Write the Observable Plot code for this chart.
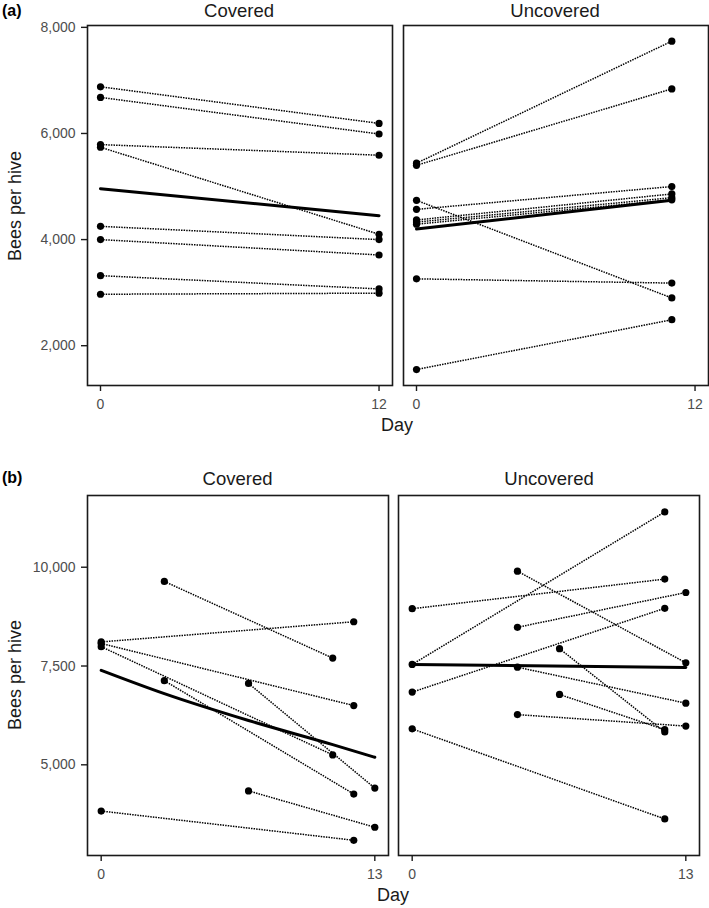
<!DOCTYPE html>
<html>
<head>
<meta charset="utf-8">
<script src="https://cdn.jsdelivr.net/npm/d3@7"></script>
<script src="https://cdn.jsdelivr.net/npm/@observablehq/plot@0.6"></script>
<style>
  html, body { margin: 0; padding: 0; background: #fff; }
  #chart { position: relative; width: 709px; height: 908px; overflow: hidden; background: #fff; }
  #chart > svg, #chart > figure { position: absolute; margin: 0; overflow: visible; }
  .overlay { left: 0; top: 0; pointer-events: none; }
</style>
</head>
<body>
<div id="chart"></div>
<script>
// ---------- Data ----------
// Panel (a) Covered
const aCovStartDay  = [0, 0, 0, 0, 0, 0, 0, 0];
const aCovStartBees = [6880, 6680, 5790, 5740, 4250, 4000, 3320, 2970];
const aCovEndDay    = [12, 12, 12, 12, 12, 12, 12, 12];
const aCovEndBees   = [6190, 5990, 5590, 4100, 4000, 3710, 3070, 2990];
const aCovMeanDay   = [0, 12];
const aCovMeanBees  = [4960, 4450];

// Panel (a) Uncovered
const aUncStartDay  = [0, 0, 0, 0, 0, 0, 0, 0, 0];
const aUncStartBees = [5440, 5400, 4740, 4570, 4370, 4330, 4290, 3260, 1550];
const aUncEndDay    = [11, 11, 11, 11, 11, 11, 11, 11, 11];
const aUncEndBees   = [7740, 6840, 2900, 5000, 4860, 4790, 4750, 3180, 2490];
const aUncMeanDay   = [0, 11];
const aUncMeanBees  = [4200, 4740];

// Panel (b) Covered
const bCovStartDay  = [0, 0, 0, 3, 3, 7, 7, 0];
const bCovStartBees = [8110, 8070, 7990, 9640, 7130, 7060, 4340, 3830];
const bCovEndDay    = [12, 12, 11, 11, 12, 13, 13, 12];
const bCovEndBees   = [8620, 6500, 5250, 7700, 4260, 4410, 3420, 3090];
const bCovMeanDay   = [0, 3, 7, 11, 13];
const bCovMeanBees  = [7390, 6800, 6120, 5510, 5190];

// Panel (b) Uncovered
const bUncStartDay  = [0, 5, 0, 5, 0, 7, 5, 7, 5, 0];
const bUncStartBees = [7540, 9900, 8950, 8480, 6840, 7940, 7470, 6780, 6270, 5910];
const bUncEndDay    = [12, 13, 12, 13, 12, 12, 13, 12, 13, 12];
const bUncEndBees   = [11400, 7580, 9700, 9360, 8960, 5830, 6560, 5890, 5980, 3630];
const bUncMeanDay   = [0, 13];
const bUncMeanBees  = [7540, 7460];

// Axis ticks
const aXTicks = [0, 12];
const bXTicks = [0, 13];
const aYTicks = [2000, 4000, 6000, 8000];
const bYTicks = [5000, 7500, 10000];

// Labels
const panelLabels = ["(a)", "(b)"];
const facetLabels = ["Covered", "Uncovered"];
const xLabel = "Day";
const yLabel = "Bees per hive";

// ---------- Drawing ----------
const FONT = "'Liberation Sans', Arial, Helvetica, sans-serif";
const chart = document.getElementById("chart");
const M = 10; // top / right margin around each frame

function panel(o) {
  const hives = o.startDay.map((d, i) => ({x1: d, y1: o.startBees[i], x2: o.endDay[i], y2: o.endBees[i]}));
  const pts = hives.flatMap(h => [{day: h.x1, bees: h.y1}, {day: h.x2, bees: h.y2}]);
  const mean = o.meanDay.map((d, i) => ({day: d, bees: o.meanBees[i]}));
  const mL = o.showY ? 87 : M;
  const svg = Plot.plot({
    width: mL + o.innerW + M,
    height: M + 360 + 30,
    marginLeft: mL, marginRight: M, marginTop: M, marginBottom: 30,
    style: {fontFamily: FONT, fontSize: "14px", background: "transparent", color: "#1a1a1a", overflow: "visible"},
    x: {domain: o.xDomain, axis: null},
    y: {domain: o.yDomain, axis: null},
    marks: [
      Plot.link(hives, {x1: "x1", y1: "y1", x2: "x2", y2: "y2", stroke: "#000", strokeWidth: 1.5, strokeDasharray: "1.5,1.1"}),
      Plot.line(mean, {x: "day", y: "bees", stroke: "#000", strokeWidth: 3, curve: "monotone-x"}),
      Plot.dot(pts, {x: "day", y: "bees", r: 3.6, fill: "#000", stroke: null}),
      Plot.frame({stroke: "#1a1a1a", strokeWidth: 1.6}),
      Plot.axisX({ticks: o.xTicks, tickFormat: d => String(d), tickSize: 6, tickPadding: 8, label: null, fill: "#4d4d4d", stroke: "#1a1a1a", strokeWidth: 1.4, fontSize: 14}),
      o.showY ? Plot.axisY({ticks: o.yTicks, tickFormat: d3.format(","), tickSize: 6, tickPadding: 6, label: null, fill: "#4d4d4d", stroke: "#1a1a1a", strokeWidth: 1.4, fontSize: 14}) : null
    ]
  });
  svg.style.left = (o.frameLeft - mL) + "px";
  svg.style.top = (o.frameTop - M) + "px";
  chart.appendChild(svg);
}

const aYDomain = [1250, 8035];
const bYDomain = [2705, 11815];

panel({startDay: aCovStartDay, startBees: aCovStartBees, endDay: aCovEndDay, endBees: aCovEndBees,
  meanDay: aCovMeanDay, meanBees: aCovMeanBees, xDomain: [-0.56, 12.58], xTicks: aXTicks,
  yDomain: aYDomain, yTicks: aYTicks, showY: true, innerW: 305, frameLeft: 87, frameTop: 25});
panel({startDay: aUncStartDay, startBees: aUncStartBees, endDay: aUncEndDay, endBees: aUncEndBees,
  meanDay: aUncMeanDay, meanBees: aUncMeanBees, xDomain: [-0.56, 12.58], xTicks: aXTicks,
  yDomain: aYDomain, yTicks: aYTicks, showY: false, innerW: 305, frameLeft: 402.5, frameTop: 25});
panel({startDay: bCovStartDay, startBees: bCovStartBees, endDay: bCovEndDay, endBees: bCovEndBees,
  meanDay: bCovMeanDay, meanBees: bCovMeanBees, xDomain: [-0.65, 13.65], xTicks: bXTicks,
  yDomain: bYDomain, yTicks: bYTicks, showY: true, innerW: 301, frameLeft: 87, frameTop: 495});
panel({startDay: bUncStartDay, startBees: bUncStartBees, endDay: bUncEndDay, endBees: bUncEndBees,
  meanDay: bUncMeanDay, meanBees: bUncMeanBees, xDomain: [-0.65, 13.65], xTicks: bXTicks,
  yDomain: bYDomain, yTicks: bYTicks, showY: false, innerW: 301, frameLeft: 398.3, frameTop: 495});

// Text overlay
const ns = "http://www.w3.org/2000/svg";
const ov = document.createElementNS(ns, "svg");
ov.setAttribute("width", 709);
ov.setAttribute("height", 908);
ov.setAttribute("class", "overlay");
ov.style.fontFamily = FONT;
function txt(s, x, y, opts = {}) {
  const t = document.createElementNS(ns, "text");
  t.textContent = s;
  t.setAttribute("x", x);
  t.setAttribute("y", y);
  t.setAttribute("font-size", opts.size || 18);
  t.setAttribute("fill", opts.fill || "#1a1a1a");
  t.setAttribute("text-anchor", opts.anchor || "middle");
  if (opts.bold) t.setAttribute("font-weight", "bold");
  if (opts.rotate) t.setAttribute("transform", `rotate(-90 ${x} ${y})`);
  ov.appendChild(t);
}
txt(panelLabels[0], 2, 16, {size: 16, bold: true, anchor: "start", fill: "#000"});
txt(panelLabels[1], 2, 483, {size: 16, bold: true, anchor: "start", fill: "#000"});
txt(facetLabels[0], 239, 17, {size: 18.5});
txt(facetLabels[1], 555, 17, {size: 18.5});
txt(facetLabels[0], 237.5, 485, {size: 18.5});
txt(facetLabels[1], 549, 485, {size: 18.5});
txt(xLabel, 397, 431, {size: 18});
txt(xLabel, 393, 901, {size: 18});
txt(yLabel, 21, 206, {size: 18, rotate: true});
txt(yLabel, 21, 675, {size: 18, rotate: true});
ov.style.position = "absolute";
chart.appendChild(ov);
</script>
</body>
</html>
